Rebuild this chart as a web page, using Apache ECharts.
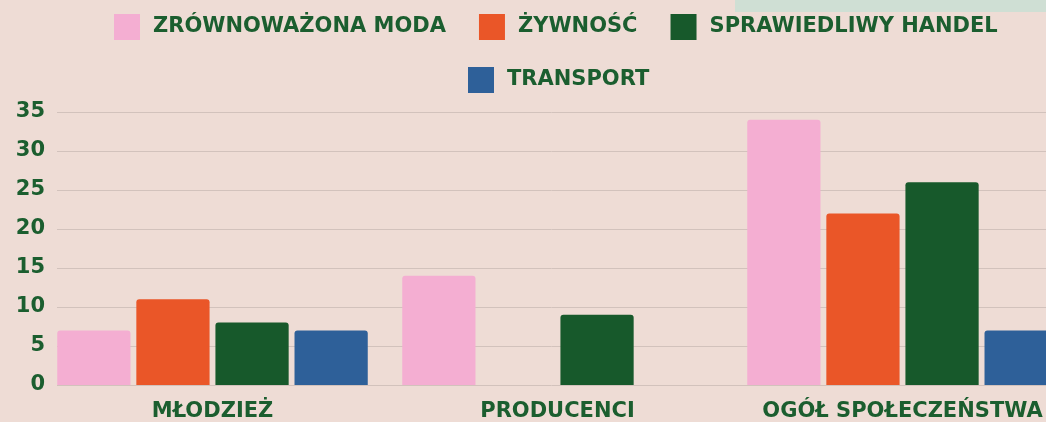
<!DOCTYPE html>
<html>
<head>
<meta charset="utf-8">
<script src="https://cdn.jsdelivr.net/npm/echarts@6/dist/echarts.min.js"></script>
<style>
	html, body { margin: 0; padding: 0; background: #eedcd5; }
	#chart { width: 1046px; height: 422px; }
</style>
</head>
<body>
<div id="chart"></div>
<script>
var categories = ['MŁODZIEŻ', 'PRODUCENCI', 'OGÓŁ SPOŁECZEŃSTWA'];   //grupy
var seriesNames = ['ZRÓWNOWAŻONA MODA', 'ŻYWNOŚĆ', 'SPRAWIEDLIWY HANDEL', 'TRANSPORT'];
var modaValues = [7, 14, 34];
var zywnoscValues = [11, 0, 22];
var handelValues = [8, 9, 26];
var transportValues = [7, 0, 7];
var yTicks = [0, 5, 10, 15, 20, 25, 30, 35];

var colors = ['#f4aed2', '#ea5628', '#17592b', '#2e6099'];
var textGreen = '#1b5e2f';
var font = '"DejaVu Sans", sans-serif';

var chart = echarts.init(document.getElementById('chart'));

var values = [modaValues, zywnoscValues, handelValues, transportValues];
var series = seriesNames.map(function (name, i) {
	return {
		name: name,
		type: 'bar',
		xAxisIndex: 0,
		yAxisIndex: 0,
		barGap: '8%',
		barCategoryGap: '10%',
		itemStyle: { color: colors[i], borderRadius: [3, 3, 0, 0] },
		data: values[i]
	};
});

var legendText = {
	color: textGreen,
	fontFamily: font,
	fontWeight: 'bold',
	fontSize: 21,
	padding: [0, 0, 0, 8]
};

var option = {
	backgroundColor: '#eedcd5',
	animation: false,
	color: colors,
	//zielony pasek w prawym górnym rogu
	graphic: [{
		type: 'rect',
		right: 0,
		top: 0,
		shape: { width: 311, height: 12 },
		style: { fill: '#cfdfd4' }
	}],
	legend: [{
		data: seriesNames.slice(0, 3),
		left: 109,
		top: 9,
		itemWidth: 26,
		itemHeight: 26,
		itemGap: 33,
		icon: 'rect',
		textStyle: legendText
	}, {
		data: [seriesNames[3]],
		left: 463,
		top: 62,
		itemWidth: 26,
		itemHeight: 26,
		icon: 'rect',
		textStyle: legendText
	}],
	grid: [
		{ left: 40, width: 1035, top: 112, height: 273, outerBoundsMode: 'none' },   //słupki
		{ left: 57, right: 0, top: 112, height: 273, outerBoundsMode: 'none' }        //linie siatki i etykiety osi Y
	],
	xAxis: [{
		type: 'category',
		gridIndex: 0,
		data: categories,
		axisLine: { show: false },
		axisTick: { show: false },
		axisLabel: {
			interval: 0,
			hideOverlap: false,
			margin: 16,
			color: textGreen,
			fontFamily: font,
			fontWeight: 'bold',
			fontSize: 21
		}
	}, {
		type: 'category',
		gridIndex: 1,
		data: categories,
		show: false
	}],
	yAxis: [{
		type: 'value',
		gridIndex: 0,
		min: yTicks[0],
		max: yTicks[yTicks.length - 1],
		interval: 5,
		show: false,
		splitLine: { show: false }
	}, {
		type: 'value',
		gridIndex: 1,
		min: yTicks[0],
		max: yTicks[yTicks.length - 1],
		interval: 5,
		axisLine: { show: false },
		axisTick: { show: false },
		splitLine: { lineStyle: { color: '#d2c2bc', width: 1 } },
		axisLabel: {
			margin: 12,
			color: textGreen,
			fontFamily: font,
			fontWeight: 'bold',
			fontSize: 21
		}
	}],
	series: series
};
chart.setOption(option);
</script>
</body>
</html>
